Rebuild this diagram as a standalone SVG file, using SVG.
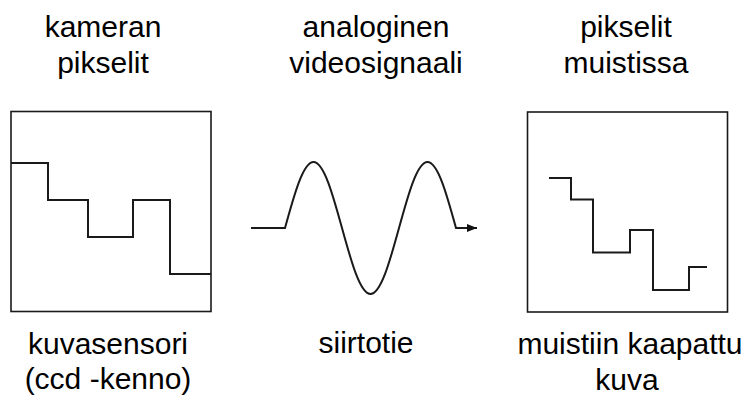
<svg xmlns="http://www.w3.org/2000/svg" width="749" height="399" viewBox="0 0 749 399">
<style>
text{font-family:"Liberation Sans",Arial,sans-serif;font-size:30px;fill:#000;text-anchor:middle}
.box{fill:none;stroke:#1a1a1a;stroke-width:1.6}
.sig{fill:none;stroke:#1a1a1a;stroke-width:2;stroke-linejoin:miter;stroke-linecap:butt}
</style>
<defs>
<marker id="ah" viewBox="0 0 10 10" refX="10" refY="5" markerWidth="10" markerHeight="10" markerUnits="userSpaceOnUse" orient="auto">
<path d="M0,1 L10,5 L0,9 Z" fill="#111"/>
</marker>
</defs>
<g id="camera">
<text x="103" y="37">kameran</text>
<text x="103" y="73">pikselit</text>
<rect class="box" x="11" y="111.5" width="200" height="200"/>
<path class="sig" d="M11,163 H48 V200 H88 V237 H133 V200 H170 V274 H211"/>
<text x="108" y="354">kuvasensori</text>
<text x="108" y="389">(ccd -kenno)</text>
</g>
<g id="signal">
<text x="376" y="37">analoginen</text>
<text x="376" y="73">videosignaali</text>
<text x="366" y="353">siirtotie</text>
</g>
<g id="memory">
<text x="626" y="37">pikselit</text>
<text x="626" y="73">muistissa</text>
<rect class="box" x="527.5" y="112" width="200" height="200"/>
<path class="sig" d="M549,178 H571 V199.5 H593 V252.5 H630 V230 H653 V290 H689 V267 H707"/>
<text x="630" y="354">muistiin kaapattu</text>
<text x="627" y="390">kuva</text>
</g>
<g id="connectors">
<path class="sig" marker-end="url(#ah)" d="M251,228 H285 C294.29,194.19 303.19,162 313.5,162 C323.81,162 332.71,194.19 342,228 C351.29,261.81 360.19,294 370.5,294 C380.81,294 389.71,261.81 399,228 C408.29,194.19 417.19,162 427.5,162 C437.81,162 446.71,194.19 456,228 H477"/>
</g>
</svg>
